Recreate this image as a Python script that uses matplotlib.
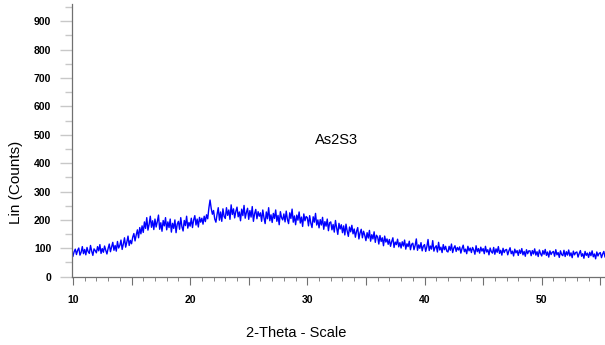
import numpy as np
import matplotlib
matplotlib.use("Agg")
import matplotlib.pyplot as plt
from matplotlib.ticker import MultipleLocator, FuncFormatter

# scan settings (2-theta start and step size, degrees)
start_angle = 10.0
step_size = 0.1

# counts, one row per degree
counts = [
    72, 88, 97, 78, 93, 101, 76, 86, 106, 81,
    96, 77, 103, 88, 82, 110, 90, 75, 98, 92,
    84, 106, 91, 113, 82, 99, 86, 108, 93, 80,
    99, 115, 88, 104, 121, 93, 110, 90, 124, 101,
    110, 129, 96, 115, 137, 104, 122, 143, 110, 128,
    116, 139, 152, 126, 147, 165, 137, 173, 151, 179,
    156, 193, 170, 208, 164, 184, 213, 174, 197, 166,
    203, 175, 194, 217, 167, 190, 160, 198, 179, 208,
    165, 193, 173, 203, 157, 188, 170, 200, 155, 185,
    195, 167, 208, 176, 161, 198, 180, 213, 171, 191,
    178, 206, 173, 200, 215, 182, 203, 175, 209, 192,
    206, 185, 213, 194, 218, 204, 242, 270, 240, 220,
    233, 203, 192, 220, 243, 199, 228, 195, 239, 212,
    205, 243, 216, 235, 202, 253, 219, 239, 207, 230,
    245, 211, 228, 197, 238, 215, 251, 206, 226, 241,
    202, 233, 210, 247, 195, 222, 237, 204, 229, 213,
    225, 195, 235, 208, 187, 228, 204, 243, 197, 218,
    191, 223, 205, 235, 195, 216, 183, 229, 208, 200,
    221, 193, 231, 202, 187, 225, 205, 238, 192, 214,
    183, 217, 199, 228, 189, 210, 177, 221, 197, 212,
    208, 179, 215, 188, 173, 211, 192, 223, 182, 200,
    172, 201, 182, 209, 167, 194, 178, 203, 162, 190,
    193, 165, 184, 157, 198, 172, 149, 188, 168, 183,
    155, 179, 147, 185, 161, 142, 175, 158, 181, 151,
    168, 139, 160, 173, 133, 154, 167, 137, 160, 146,
    127, 155, 136, 163, 125, 148, 133, 158, 121, 146,
    140, 115, 145, 124, 137, 109, 143, 122, 133, 114,
    131, 107, 124, 137, 103, 122, 113, 132, 105, 120,
    101, 123, 108, 129, 97, 116, 106, 125, 95, 114,
    118, 95, 110, 133, 93, 112, 100, 120, 91, 108,
    113, 89, 106, 131, 92, 108, 97, 127, 90, 103,
    109, 87, 121, 94, 104, 85, 113, 95, 107, 90,
    87, 107, 93, 115, 85, 101, 109, 89, 103, 94,
    105, 83, 99, 111, 88, 97, 81, 107, 91, 101,
    85, 103, 94, 79, 109, 88, 99, 83, 104, 90,
    99, 81, 107, 87, 95, 77, 101, 88, 83, 103,
    79, 98, 86, 106, 82, 93, 76, 100, 85, 94,
    96, 77, 91, 102, 81, 90, 73, 97, 84, 92,
    75, 94, 82, 99, 77, 89, 72, 95, 81, 91,
    91, 74, 92, 80, 98, 76, 88, 71, 94, 81,
    73, 92, 79, 96, 75, 87, 69, 91, 78, 86,
    89, 72, 95, 77, 85, 68, 91, 78, 74, 93,
    71, 88, 76, 94, 73, 84, 67, 90, 77, 85,
    87, 69, 82, 92, 72, 81, 65, 89, 75, 83,
    68, 86, 74, 91, 70, 80, 63, 87, 73, 82,
    85, 67, 80, 89, 69, 79,
]
sample_name = "As2S3"

two_theta = start_angle + step_size * np.arange(len(counts))

plt.rcParams['font.family'] = ['Liberation Sans', 'DejaVu Sans']

fig = plt.figure(figsize=(6.05, 3.45), dpi=100)
ax = fig.add_axes([0.119, 0.198, 0.881, 0.79])

ax.plot(two_theta, counts, color='#0000ff', lw=1.0)

ax.set_xlim(9.92, 55.4)
ax.set_ylim(0, 960)

for s in ['top', 'right']:
    ax.spines[s].set_visible(False)
for s in ['left', 'bottom']:
    ax.spines[s].set_color('#707070')
    ax.spines[s].set_linewidth(0.9)

# major ticks every 5 degrees, labels only every 10
ax.xaxis.set_major_locator(MultipleLocator(5))
ax.xaxis.set_minor_locator(MultipleLocator(1))
ax.xaxis.set_major_formatter(FuncFormatter(
    lambda v, p: f"{v:.0f}" if round(v) % 10 == 0 else ""))
ax.yaxis.set_major_locator(MultipleLocator(100))
ax.yaxis.set_minor_locator(MultipleLocator(50))
ax.set_yticks(np.arange(0, 1000, 100))

ax.tick_params(axis='x', which='major', length=6, color='#707070', width=0.8,
               pad=7, labelsize=7.5)
ax.tick_params(axis='x', which='minor', length=3, color='#707070', width=0.6)
ax.tick_params(axis='y', which='major', length=9, color='#c8c8c8', width=1.0,
               pad=6, labelsize=7.5)
ax.tick_params(axis='y', which='minor', length=5, color='#c8c8c8', width=1.0)

for lab in ax.get_xticklabels() + ax.get_yticklabels():
    lab.set_fontweight('bold')

ax.text(32.5, 480, sample_name, fontsize=10.5, ha='center', va='center')

fig.text(0.026, 0.47, "Lin (Counts)", rotation=90, fontsize=11,
         ha='center', va='center')
fig.text(0.489, 0.035, "2-Theta - Scale", fontsize=10.5,
         ha='center', va='center')

fig.savefig("out.png", dpi=100)
